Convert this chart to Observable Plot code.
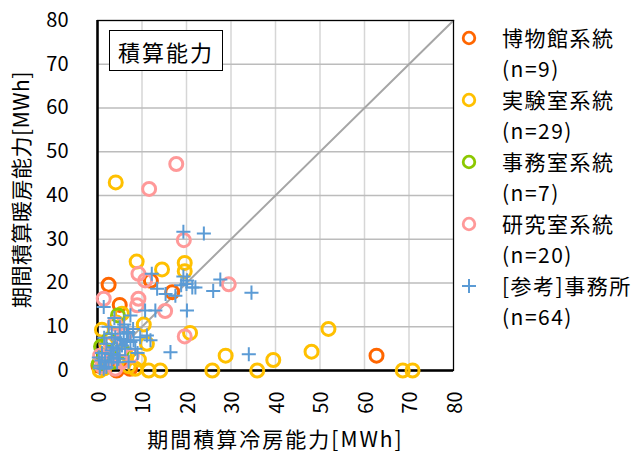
<!DOCTYPE html>
<html>
<head>
<meta charset="utf-8">
<script src="https://cdn.jsdelivr.net/npm/d3@7"></script>
<script src="https://cdn.jsdelivr.net/npm/@observablehq/plot@0.6"></script>
<style>
  body { margin: 0; background: #fff; }
  #wrap { position: relative; width: 635px; height: 453px; font-family: "Noto Sans CJK JP", "Noto Sans", sans-serif; color: #000; }
  #wrap > svg { position: absolute; left: 0; top: 0; }
  #title { position: absolute; left: 109px; top: 30px; width: 114px; height: 41px; box-sizing: border-box;
           border: 1.5px solid #000; background: #fff; font-size: 22px; letter-spacing: 2px;
           display: flex; align-items: center; justify-content: center; }
  #legend { position: absolute; left: 458px; top: 22px; font-size: 21px; letter-spacing: 1.5px; }
  #legend .row { height: 31px; line-height: 31px; display: flex; align-items: center; white-space: nowrap; }
  #legend .row svg { position: static; width: 22px; height: 22px; margin-right: 22px; flex: none; }
  #legend .sub { padding-left: 44px; }
</style>
</head>
<body>
<div id="wrap">
  <div id="title">積算能力</div>
  <div id="legend"></div>
</div>
<script>
// Cooling (x) and heating (y) totals per building, MWh
const museumCool = [62.7, 2.5, 5.0, 12.0, 16.8, 7.3, 0.2, 4.3, 2.8];
const museumHeat = [3.4, 19.6, 15.0, 20.5, 17.9, 0.4, 1.1, 0.0, 2.0];

const labCool = [4.1, 8.8, 14.5, 19.6, 19.6, 5.5, 10.4, 1.0, 11.1, 20.8, 28.8, 25.8, 35.9, 39.5, 48.1,
                 51.9, 68.6, 70.8, 11.5, 14.1, 8.5, 0.5, 3.0, 6.2, 2.0, 7.0, 4.2, 1.5, 9.3];
const labHeat = [43.0, 24.9, 23.1, 24.6, 22.7, 13.0, 10.5, 9.3, 6.1, 8.6, 3.4, 0.0, 0.0, 2.4, 4.3,
                 9.5, 0.0, 0.0, 0.0, 0.0, 0.4, 0.0, 2.0, 4.0, 6.0, 1.0, 11.0, 0.5, 2.5];

const officeCool = [4.6, 0.8, 1.5, 2.5, 3.5, 0.3, 5.5];
const officeHeat = [12.6, 5.5, 3.5, 7.0, 2.0, 1.5, 4.5];

const researchCool = [17.7, 11.6, 19.4, 9.2, 10.7, 1.4, 9.2, 8.9, 15.2, 19.6, 29.5, 3.9, 2.4, 4.0, 0.6,
                      7.7, 6.0, 3.0, 1.0, 5.5];
const researchHeat = [47.2, 41.5, 29.8, 22.1, 20.6, 16.4, 16.4, 14.9, 13.6, 7.8, 19.7, 10.7, 3.0, 0.4, 3.4,
                      3.4, 8.0, 6.0, 1.0, 2.0];

const refOfficeCool = [19.3, 23.9, 12.2, 13.4, 15.3, 17.5, 20.1, 21.3, 20.1, 13.0, 10.7, 1.4, 7.4, 20.0, 22.0,
                       27.6, 26.0, 34.6, 34.0, 16.4, 11.1, 11.9, 19.3, 18.8,
                       3.2, 4.0, 5.1, 5.9, 6.6, 7.4, 8.1, 5.5, 3.6, 4.4, 6.2, 2.9, 3.6, 4.7, 1.7, 0.6, 1.4,
                       2.5, 4.4, 6.6, 9.6, 5.0, 6.9, 2.0, 0.9, 3.2, 3.2,
                       0.5, 2.0, 1.0, 2.5, 8.5, 9.0, 0.3, 5.0, 7.0, 1.5, 3.8, 6.0, 8.0];
const refOfficeHeat = [31.7, 31.3, 22.1, 18.7, 17.5, 17.1, 20.6, 19.0, 13.7, 13.7, 13.7, 14.5, 12.6, 19.8, 19.0,
                       20.8, 18.2, 17.8, 3.7, 4.2, 8.0, 6.9, 21.5, 19.5,
                       8.4, 7.6, 7.2, 6.9, 6.9, 6.5, 6.9, 5.7, 5.3, 5.0, 5.0, 3.8, 3.0, 2.7, 2.3, 1.1, 0.4,
                       1.9, 1.9, 8.4, 7.6, 9.9, 8.8, 6.1, 2.3, 4.6, 1.9,
                       0.5, 0.8, 4.0, 10.0, 5.0, 4.0, 3.0, 3.5, 2.0, 7.5, 12.0, 10.5, 9.5];

const seriesNames = ["博物館系統", "実験室系統", "事務室系統", "研究室系統", "[参考]事務所"];
const seriesColors = ["#FF6600", "#FFC000", "#8CC800", "#FF9999", "#5B9BD5"];
const seriesCool = [museumCool, labCool, officeCool, researchCool, refOfficeCool];
const seriesHeat = [museumHeat, labHeat, officeHeat, researchHeat, refOfficeHeat];

const axisTicks = [0, 10, 20, 30, 40, 50, 60, 70, 80];
const diagonal = [0, 80];
const xTitle = "期間積算冷房能力[MWh]";
const yTitle = "期間積算暖房能力[MWh]";

const rows = (k) => seriesCool[k].map((c, i) => ({cool: c, heat: seriesHeat[k][i]}));

const circleSeries = [0, 1, 2, 3].map((k) =>
  Plot.dot(rows(k), {x: "cool", y: "heat", r: 6.5, stroke: seriesColors[k], strokeWidth: 3, fill: "none"})
);

const chart = Plot.plot({
  width: 635,
  height: 453,
  marginLeft: 97,
  marginRight: 182,
  marginTop: 20,
  marginBottom: 83,
  x: {domain: [0, 80]},
  y: {domain: [0, 80]},
  style: {fontFamily: '"Noto Sans CJK JP", "Noto Sans", sans-serif', fontSize: "20px", color: "#000", background: "transparent", overflow: "visible"},
  marks: [
    Plot.gridX(axisTicks, {stroke: "#d6d6d6", strokeOpacity: 1, strokeWidth: 1.5}),
    Plot.gridY(axisTicks, {stroke: "#bcbcbc", strokeOpacity: 1, strokeWidth: 1.5}),
    Plot.line(diagonal, {x: (d) => d, y: (d) => d, stroke: "#a6a6a6", strokeWidth: 2}),
    Plot.frame({stroke: "#000", strokeWidth: 1.2}),
    Plot.ruleX([0], {stroke: "#000", strokeWidth: 2.5}),
    Plot.ruleY([0], {stroke: "#000", strokeWidth: 2.5}),
    Plot.axisY(axisTicks, {tickSize: 0, tickPadding: 29, fontSize: 20, label: null}),
    Plot.axisX(axisTicks, {tickSize: 0, tickPadding: 21, tickRotate: -90, lineAnchor: "middle", dx: 2, fontSize: 20, label: null}),
    Plot.text([xTitle], {text: (d) => d, frameAnchor: "bottom", textAnchor: "middle", lineAnchor: "middle", dy: 70, fontSize: 21}),
    Plot.text([yTitle], {text: (d) => d, frameAnchor: "left", textAnchor: "middle", lineAnchor: "middle", dx: -75, dy: -6, rotate: -90, fontSize: 21}),
    ...circleSeries,
    Plot.dot(rows(4), {x: "cool", y: "heat", symbol: "plus", r: 4.6, stroke: seriesColors[4], strokeWidth: 2})
  ]
});
chart.querySelectorAll("text").forEach((t) => {
  if (t.textContent === xTitle) t.setAttribute("letter-spacing", "2");
  if (t.textContent === yTitle) t.setAttribute("letter-spacing", "0.5");
});
document.getElementById("wrap").prepend(chart);

// Legend at the right of the plot
const legend = document.getElementById("legend");
seriesNames.forEach((name, k) => {
  const row = document.createElement("div");
  row.className = "row";
  const marker = k === 4
    ? `<svg viewBox="-11 -11 22 22"><path d="M-7,0H7M0,-7V7" stroke="${seriesColors[k]}" stroke-width="2"/></svg>`
    : `<svg viewBox="-11 -11 22 22"><circle r="5.8" fill="none" stroke="${seriesColors[k]}" stroke-width="2.8"/></svg>`;
  row.innerHTML = marker + `<span>${name}</span>`;
  const sub = document.createElement("div");
  sub.className = "row sub";
  sub.textContent = `(n=${seriesCool[k].length})`;
  legend.appendChild(row);
  legend.appendChild(sub);
});
</script>
</body>
</html>
